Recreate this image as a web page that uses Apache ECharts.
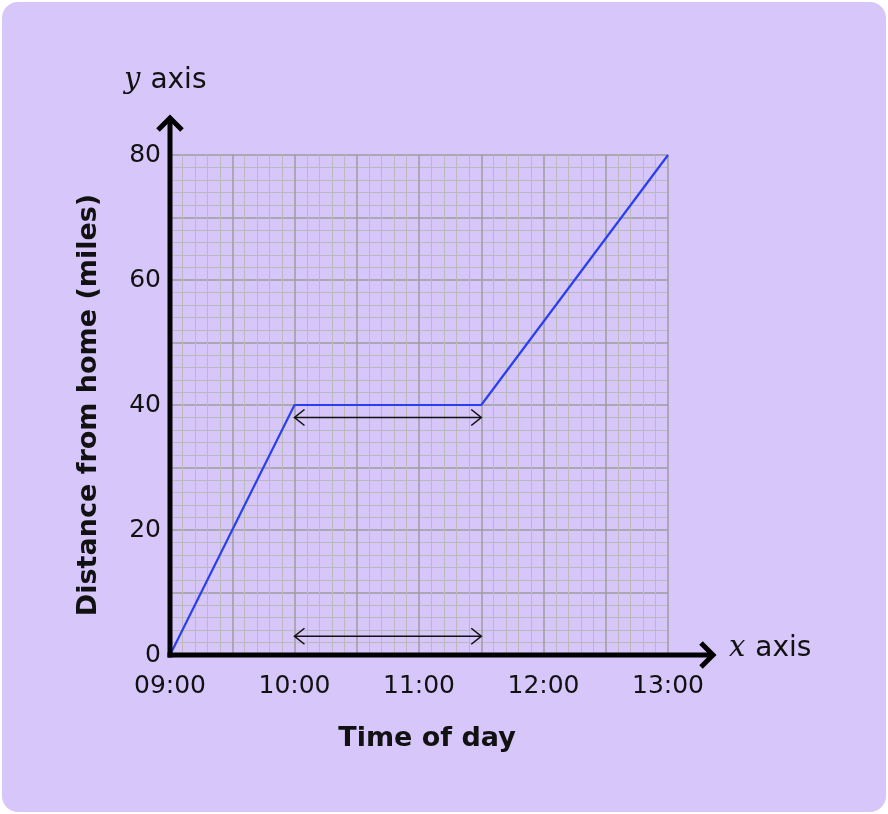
<!DOCTYPE html>
<html>
<head>
<meta charset="utf-8">
<script src="https://cdn.jsdelivr.net/npm/echarts@6/dist/echarts.min.js"></script>
<style>
  html, body { margin: 0; padding: 0; background: #ffffff; }
  #card {
    position: absolute; left: 2px; top: 2px; width: 884px; height: 810px;
    background: #d6c6fa; border-radius: 16px; overflow: hidden;
  }
  #main { width: 884px; height: 810px; }
</style>
</head>
<body>
<div id="card"><div id="main"></div></div>
<script>
// hours after 09:00 and distance in miles
var hours = [0, 1, 2.5, 4];
var miles = [0, 40, 40, 80];
var timeLabels = ['09:00', '10:00', '11:00', '12:00', '13:00'];
// the two double arrows showing the stop (from, to, height)
var stopArrows = [[1, 2.5, 38], [1, 2.5, 3]];

var FONT = '"DejaVu Sans", sans-serif';

var myChart = echarts.init(document.getElementById('main'));

var option = {
    animation: false,
    grid: { left: 168, top: 153, width: 498, height: 500 },
    xAxis: [{
        type: 'value', min: 0, max: 4, interval: 0.5,
        axisLine: { show: false }, axisTick: { show: false },
        axisLabel: {
            color: '#111', fontSize: 25, fontFamily: FONT, margin: 19,
            formatter: function (v) {
                return v % 1 === 0 ? timeLabels[v] : '';
            }
        },
        splitLine: { show: true, lineStyle: { color: '#9c9c9c', width: 1.5 } },
        minorTick: { show: true, splitNumber: 5, length: 0 },
        minorSplitLine: { show: true, lineStyle: { color: '#bababa', width: 1 } },
        name: 'Time of day', nameLocation: 'middle', nameGap: 70,
        nameTextStyle: { color: '#111', fontSize: 27, fontWeight: 'bold', fontFamily: FONT, padding: [0, 0, 0, 16] }
    }, {
        // top border
        type: 'value', min: 0, max: 4, position: 'top',
        axisLine: { show: true, lineStyle: { color: '#111', width: 1 } },
        axisTick: { show: false }, axisLabel: { show: false }, splitLine: { show: false }
    }],
    yAxis: [{
        type: 'value', min: 0, max: 80, interval: 10,
        axisLine: { show: false }, axisTick: { show: false },
        axisLabel: {
            color: '#111', fontSize: 25, fontFamily: FONT, margin: 9,
            formatter: function (v) { return v % 20 === 0 ? String(v) : ''; }
        },
        splitLine: { show: true, lineStyle: { color: '#9c9c9c', width: 1.5 } },
        minorTick: { show: true, splitNumber: 5, length: 0 },
        minorSplitLine: { show: true, lineStyle: { color: '#bababa', width: 1 } },
        name: 'Distance from home (miles)', nameLocation: 'middle', nameGap: 68, nameRotate: 90,
        nameTextStyle: { color: '#111', fontSize: 27, fontWeight: 'bold', fontFamily: FONT }
    }, {
        // right border
        type: 'value', min: 0, max: 80, position: 'right',
        axisLine: { show: true, lineStyle: { color: '#111', width: 1 } },
        axisTick: { show: false }, axisLabel: { show: false }, splitLine: { show: false }
    }],
    series: [{
        type: 'line',
        data: hours.map(function (h, i) { return [h, miles[i]]; }),
        symbol: 'none',
        lineStyle: { color: '#2b3ff2', width: 2.2 },
        z: 5
    }, {
        type: 'custom',
        data: stopArrows,
        z: 6,
        renderItem: function (params, api) {
            var a = api.coord([api.value(0), api.value(2)]);
            var b = api.coord([api.value(1), api.value(2)]);
            var s = { stroke: '#111', lineWidth: 1.6, fill: null };
            return {
                type: 'group',
                children: [
                    { type: 'line', shape: { x1: a[0], y1: a[1], x2: b[0], y2: b[1] }, style: s },
                    { type: 'polyline', shape: { points: [[a[0] + 10, a[1] - 8], [a[0], a[1]], [a[0] + 10, a[1] + 8]] }, style: s },
                    { type: 'polyline', shape: { points: [[b[0] - 10, b[1] - 8], [b[0], b[1]], [b[0] - 10, b[1] + 8]] }, style: s }
                ]
            };
        }
    }]
};

myChart.setOption(option);

// thick axes with arrow heads that run past the plot
var o = myChart.convertToPixel({ gridIndex: 0 }, [0, 0]);
var yTop = myChart.convertToPixel({ gridIndex: 0 }, [0, 80])[1] - 38;
var xEnd = myChart.convertToPixel({ gridIndex: 0 }, [4, 0])[0] + 46;
var ax = { stroke: '#000', lineWidth: 5, fill: null, lineJoin: 'miter', lineCap: 'butt' };
var axisRich = {
    i: { fontFamily: '"DejaVu Serif", serif', fontStyle: 'italic', fontSize: 29, fill: '#111', padding: [0, 10, 0, 0] },
    n: { fontFamily: FONT, fontSize: 28, fill: '#111' }
};

myChart.setOption({
    graphic: [
        { type: 'line', shape: { x1: o[0], y1: o[1] + 2.5, x2: o[0], y2: yTop + 2 }, style: ax, z: 10 },
        { type: 'polyline', shape: { points: [[o[0] - 12, yTop + 13], [o[0], yTop + 1], [o[0] + 12, yTop + 13]] }, style: ax, z: 10 },
        { type: 'line', shape: { x1: o[0] - 2.5, y1: o[1], x2: xEnd - 2, y2: o[1] }, style: ax, z: 10 },
        { type: 'polyline', shape: { points: [[xEnd - 13, o[1] - 12], [xEnd - 1, o[1]], [xEnd - 13, o[1] + 12]] }, style: ax, z: 10 },
        {
            type: 'text', left: o[0] - 46, top: yTop - 51, z: 10,
            style: { rich: axisRich, text: '{i|y}{n|axis}' }
        },
        {
            type: 'text', left: xEnd + 15, top: o[1] - 21, z: 10,
            style: { rich: axisRich, text: '{i|x}{n|axis}' }
        }
    ]
});
</script>
</body>
</html>
